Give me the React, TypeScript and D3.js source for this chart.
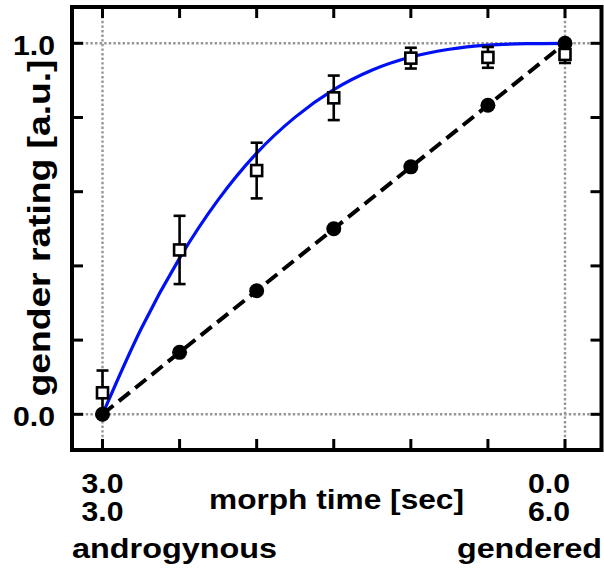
import React from "react";
import * as d3 from "d3";

const morphSteps = [0, 1, 2, 3, 4, 5, 6];
const linearRating = [0, 0.167, 0.333, 0.5, 0.667, 0.833, 1.0];
const measuredRating = [0.058, 0.443, 0.657, 0.853, 0.96, 0.962, 0.97];
const measuredErr = [0.06, 0.092, 0.075, 0.06, 0.028, 0.028, 0.023];
const fitX = [0, 0.5, 1, 1.5, 2, 2.5, 3, 3.5, 4, 4.5, 5, 5.5, 6];
const fitY = [0, 0.23, 0.421, 0.578, 0.704, 0.801, 0.875, 0.928, 0.963, 0.984, 0.995, 0.999, 1.0];
const yTicks = [0, 0.2, 0.4, 0.6, 0.8, 1.0];
const yTickLabels = ["0.0", "1.0"];
const xLeftLabels = ["3.0", "3.0", "androgynous"];
const xRightLabels = ["0.0", "6.0", "gendered"];
const xTitle = "morph time [sec]";
const yTitle = "gender rating [a.u.]";

const W = 604;
const H = 572;
const fx0 = 72, fx1 = 601.5, fy0 = 7, fy1 = 450;
const font = "'Liberation Sans', Arial, sans-serif";

export default function App() {
  const x = d3.scaleLinear().domain([0, 6]).range([102.5, 565]);
  const y = d3.scaleLinear().domain([0, 1]).range([414.3, 43.3]);

  const fitLine = d3
    .line<number>()
    .x((_, i) => x(fitX[i]))
    .y((d) => y(d))
    .curve(d3.curveMonotoneX)(fitY) as string;

  const dashLine = d3
    .line<number>()
    .x((_, i) => x(morphSteps[i]))
    .y((d) => y(d))(linearRating) as string;

  const gray = "#969696";
  const txt = { fontFamily: font, fontWeight: 700, fontSize: 28.5, fill: "#000" } as const;
  const num = { ...txt, textLength: 42, lengthAdjust: "spacingAndGlyphs" } as const;

  return (
    <svg width={W} height={H} style={{ position: "absolute", left: 0, top: 0 }}>
      <rect x={0} y={0} width={W} height={H} fill="#fff" />
      {/* reference dotted lines */}
      {[0, 1].map((v) => (
        <line key={"h" + v} x1={fx0} x2={fx1} y1={y(v)} y2={y(v)} stroke={gray} strokeWidth={2.4} strokeDasharray="2.4,2.2" />
      ))}
      {[0, 6].map((v) => (
        <line key={"v" + v} x1={x(v)} x2={x(v)} y1={fy0} y2={fy1} stroke={gray} strokeWidth={2.4} strokeDasharray="2.4,2.2" />
      ))}
      {/* ticks */}
      {morphSteps.map((v) => (
        <g key={"xt" + v}>
          <line x1={x(v)} x2={x(v)} y1={fy0} y2={fy0 + 11} stroke="#000" strokeWidth={3} />
          <line x1={x(v)} x2={x(v)} y1={fy1} y2={fy1 - 11} stroke="#000" strokeWidth={3} />
        </g>
      ))}
      {yTicks.map((v) => (
        <g key={"yt" + v}>
          <line x1={fx0} x2={fx0 + 11} y1={y(v)} y2={y(v)} stroke="#000" strokeWidth={3} />
          <line x1={fx1} x2={fx1 - 11} y1={y(v)} y2={y(v)} stroke="#000" strokeWidth={3} />
        </g>
      ))}
      {/* fit curve */}
      <path d={fitLine} fill="none" stroke="#0010f5" strokeWidth={3.2} />
      {/* dashed linear */}
      <path d={dashLine} fill="none" stroke="#000" strokeWidth={4} strokeDasharray="14,7" />
      {linearRating.map((v, i) => (
        <circle key={"c" + i} cx={x(morphSteps[i])} cy={y(v)} r={7.5} fill="#000" />
      ))}
      {/* measured squares with error bars */}
      {measuredRating.map((v, i) => {
        const cx = x(morphSteps[i]);
        const top = y(v + measuredErr[i]);
        const bot = y(v - measuredErr[i]);
        return (
          <g key={"s" + i}>
            <line x1={cx} x2={cx} y1={top} y2={bot} stroke="#000" strokeWidth={2.6} />
            <line x1={cx - 6} x2={cx + 6} y1={top} y2={top} stroke="#000" strokeWidth={2.6} />
            <line x1={cx - 6} x2={cx + 6} y1={bot} y2={bot} stroke="#000" strokeWidth={2.6} />
            <rect x={cx - 5.5} y={y(v) - 5.5} width={11} height={11} fill="#fff" stroke="#000" strokeWidth={2.6} />
          </g>
        );
      })}
      {/* frame */}
      <rect x={fx0} y={fy0} width={fx1 - fx0} height={fy1 - fy0} fill="none" stroke="#000" strokeWidth={4} />
      {/* y tick labels */}
      <text x={55} y={y(1) + 11.5} textAnchor="end" {...num}>{yTickLabels[1]}</text>
      <text x={55} y={y(0) + 11.5} textAnchor="end" {...num}>{yTickLabels[0]}</text>
      {/* y title */}
      <text transform={`translate(50,228) rotate(-90)`} textAnchor="middle" {...txt} fontSize={31.5} textLength={337} lengthAdjust="spacingAndGlyphs">{yTitle}</text>
      {/* x labels */}
      <text x={102.5} y={493} textAnchor="middle" {...num}>{xLeftLabels[0]}</text>
      <text x={102.5} y={521} textAnchor="middle" {...num}>{xLeftLabels[1]}</text>
      <text x={72} y={558} {...txt} textLength={205} lengthAdjust="spacingAndGlyphs">{xLeftLabels[2]}</text>
      <text x={549} y={493} textAnchor="middle" {...num}>{xRightLabels[0]}</text>
      <text x={549} y={521} textAnchor="middle" {...num}>{xRightLabels[1]}</text>
      <text x={457} y={558} {...txt} textLength={145} lengthAdjust="spacingAndGlyphs">{xRightLabels[2]}</text>
      <text x={209} y={509} {...txt} textLength={255} lengthAdjust="spacingAndGlyphs">{xTitle}</text>
    </svg>
  );
}
